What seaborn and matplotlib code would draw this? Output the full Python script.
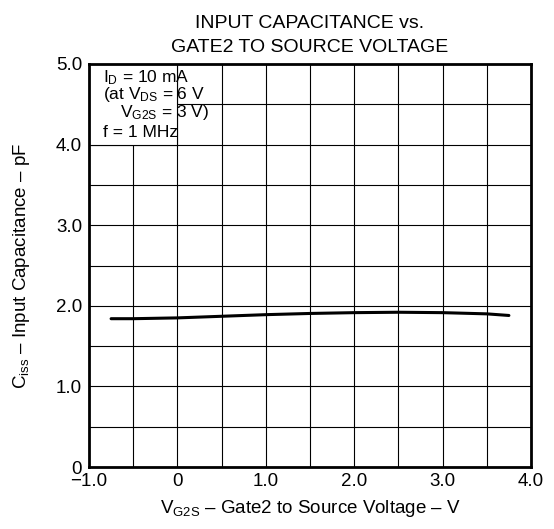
import matplotlib
matplotlib.use("Agg")
import matplotlib.pyplot as plt
import seaborn as sns
import pandas as pd
from matplotlib.patches import Rectangle
from matplotlib.ticker import MultipleLocator

# data
v_g2s = [-0.75, -0.5, 0.0, 0.5, 1.0, 1.5, 2.0, 2.5, 3.0, 3.5, 3.75]
c_iss = [1.84, 1.84, 1.85, 1.87, 1.89, 1.905, 1.915, 1.92, 1.915, 1.90, 1.88]

x_ticks = [-1.0, 0, 1.0, 2.0, 3.0, 4.0]
x_tick_labels = ["\u22121.0", "0", "1.0", "2.0", "3.0", "4.0"]
y_ticks = [0, 1.0, 2.0, 3.0, 4.0, 5.0]
y_tick_labels = ["0", "1.0", "2.0", "3.0", "4.0", "5.0"]

df = pd.DataFrame({"V": v_g2s, "C": c_iss})

sns.set_theme(style="white")
plt.rcParams["font.family"] = ["Liberation Sans", "DejaVu Sans"]
plt.rcParams["mathtext.fontset"] = "custom"
plt.rcParams["mathtext.rm"] = "Liberation Sans"
plt.rcParams["mathtext.it"] = "Liberation Sans"
plt.rcParams["text.color"] = "black"
plt.rcParams["axes.labelcolor"] = "black"

fig = plt.figure(figsize=(5.54, 5.29), dpi=100)
ax = fig.add_axes([89 / 554, 1 - 467 / 529, 442 / 554, 403 / 529])

sns.lineplot(data=df, x="V", y="C", ax=ax, color="black", linewidth=2.2, zorder=3)

ax.set_xlim(-1.0, 4.0)
ax.set_ylim(0, 5.0)
ax.set_xticks(x_ticks)
ax.set_xticklabels(x_tick_labels)
ax.set_yticks(y_ticks)
ax.set_yticklabels(y_tick_labels)
ax.xaxis.set_minor_locator(MultipleLocator(0.5))
ax.yaxis.set_minor_locator(MultipleLocator(0.5))
ax.grid(True, which="both", color="black", linewidth=0.8)
ax.set_axisbelow(True)
ax.tick_params(which="both", length=0, labelsize=13.5, colors="black", pad=5)
ax.tick_params(axis="x", pad=4)
for sp in ax.spines.values():
    sp.set_color("black")
    sp.set_linewidth(2)

# white box with test conditions in the upper-left corner
ax.add_patch(Rectangle((-1.0, 4.0), 1.0, 1.0, facecolor="white",
                       edgecolor="black", linewidth=0.8, zorder=2))
cond = [(-0.84, 4.77, r"I$_{\rm D}$ = 10 mA"),
        (-0.84, 4.56, r"(at V$_{\rm DS}$ = 6 V"),
        (-0.65, 4.34, r"V$_{\rm G2S}$ = 3 V)"),
        (-0.84, 4.10, r"f = 1 MHz")]
for tx, ty, line in cond:
    ax.text(tx, ty, line, fontsize=12.5, va="baseline", ha="left", zorder=4)

ax.set_xlabel("V$_{\\rm G2S}$ \u2013 Gate2 to Source Voltage \u2013 V",
              fontsize=13.5, labelpad=6)
ax.set_ylabel("C$_{\\rm iss}$ \u2013 Input Capacitance \u2013 pF",
              fontsize=13.5, labelpad=17)
ax.set_title("INPUT CAPACITANCE vs.\nGATE2 TO SOURCE VOLTAGE", fontsize=14,
             pad=9, linespacing=1.5)

fig.savefig("out.png", dpi=100)
